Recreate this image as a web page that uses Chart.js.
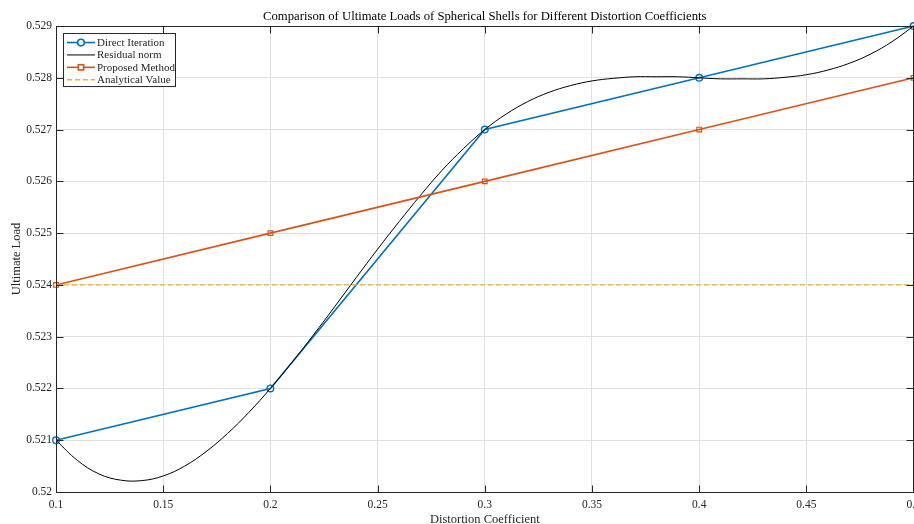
<!DOCTYPE html>
<html>
<head>
    <title>Ultimate Loads of Spherical Shells</title>
    <script src="https://cdn.jsdelivr.net/npm/chart.js"></script>
    <style>
body{
    margin: 0;
    background-color: #ffffff;
    overflow: hidden;
}
    </style>
</head>
<body>
    <!-- a little wider than the window so the last x label is cut at the edge, as in the figure -->
    <canvas id="loadChart" width="919" height="524"></canvas>

    <script>
        // Data
        const distortion = [0.1, 0.2, 0.3, 0.4, 0.5];
        const directIteration = [0.521, 0.522, 0.527, 0.528, 0.529];
        const proposedMethod = [0.524, 0.525, 0.526, 0.527, 0.528];
        const analyticalValue = 0.524;

        // smooth black curve, sampled every 0.01
        const residualX = [0.10, 0.11, 0.12, 0.13, 0.14, 0.15, 0.16, 0.17, 0.18, 0.19,
                           0.20, 0.21, 0.22, 0.23, 0.24, 0.25, 0.26, 0.27, 0.28, 0.29,
                           0.30, 0.31, 0.32, 0.33, 0.34, 0.35, 0.36, 0.37, 0.38, 0.39,
                           0.40, 0.41, 0.42, 0.43, 0.44, 0.45, 0.46, 0.47, 0.48, 0.49, 0.50];
        const residualNorm = [0.52100, 0.52061, 0.52035, 0.52023, 0.52022, 0.52031, 0.52050, 0.52078, 0.52113, 0.52154,
                              0.52200, 0.52250, 0.52303, 0.52358, 0.52414, 0.52469, 0.52522, 0.52573, 0.52621, 0.52663,
                              0.52700, 0.52730, 0.52754, 0.52772, 0.52785, 0.52794, 0.52799, 0.52802, 0.52802, 0.52802,
                              0.52800, 0.52798, 0.52798, 0.52798, 0.52801, 0.52806, 0.52815, 0.52828, 0.52846, 0.52870, 0.52900];

        const xTicks = { min: 0.1, max: 0.5, step: 0.05 };
        const yTicks = { min: 0.52, max: 0.529, step: 0.001 };

        const serif = '"Liberation Serif", "Times New Roman", serif';
        const axisColor = '#262626';

        function toXY(xs, ys) {
            return xs.map((x, i) => ({ x: x, y: ys[i] }));
        }

        // inward tick marks, box on top/right, MATLAB-like legend
        const matlabAxes = {
            id: 'matlabAxes',
            afterDatasetsDraw(chart) {
                const ctx = chart.ctx;
                const a = chart.chartArea;
                const xs = chart.scales.x, ys = chart.scales.y;
                const len = 7;
                const l = Math.round(a.left) + 0.5, r = Math.round(a.right) - 0.5;
                const t = Math.round(a.top) + 0.5, b = Math.round(a.bottom) + 0.5;
                ctx.save();
                ctx.strokeStyle = axisColor;
                ctx.lineWidth = 1;
                ctx.beginPath();
                xs.ticks.forEach(tk => {
                    const px = Math.round(xs.getPixelForValue(tk.value)) + 0.5;
                    ctx.moveTo(px, b); ctx.lineTo(px, b - len);
                    ctx.moveTo(px, t); ctx.lineTo(px, t + len);
                });
                ys.ticks.forEach(tk => {
                    const py = Math.round(ys.getPixelForValue(tk.value)) + 0.5;
                    ctx.moveTo(l, py); ctx.lineTo(l + len, py);
                    ctx.moveTo(r, py); ctx.lineTo(r - len, py);
                });
                ctx.stroke();
                ctx.strokeRect(l, t, r - l, b - t);
                ctx.restore();
            },
            afterDraw(chart) {
                const ctx = chart.ctx;
                const a = chart.chartArea;
                const left = a.left + 7, top = a.top + 7;
                const w = 112, rowH = 12.4, h = 53;
                ctx.save();
                ctx.fillStyle = '#ffffff';
                ctx.fillRect(left + 0.5, top + 0.5, w, h);
                ctx.strokeStyle = axisColor;
                ctx.lineWidth = 1;
                ctx.strokeRect(left + 0.5, top + 0.5, w, h);
                ctx.font = '11px ' + serif;
                ctx.textBaseline = 'middle';
                chart.data.datasets.forEach((ds, i) => {
                    const y = top + 9.5 + i * rowH;
                    const x0 = left + 4, x1 = left + 32;
                    ctx.strokeStyle = ds.borderColor;
                    ctx.lineWidth = ds.borderWidth;
                    ctx.setLineDash(ds.borderDash || []);
                    ctx.beginPath();
                    ctx.moveTo(x0, y); ctx.lineTo(x1, y);
                    ctx.stroke();
                    ctx.setLineDash([]);
                    const cx = (x0 + x1) / 2;
                    if (ds.pointStyle === 'circle' && ds.pointRadius > 0) {
                        ctx.fillStyle = '#ffffff';
                        ctx.beginPath();
                        ctx.arc(cx, y, ds.pointRadius, 0, Math.PI * 2);
                        ctx.fill(); ctx.stroke();
                    } else if (ds.pointStyle === 'rect' && ds.pointRadius > 0) {
                        const r = ds.pointRadius * 0.8;
                        ctx.fillStyle = '#ffffff';
                        ctx.fillRect(cx - r, y - r, 2 * r, 2 * r);
                        ctx.strokeRect(cx - r, y - r, 2 * r, 2 * r);
                    }
                    ctx.fillStyle = '#262626';
                    ctx.fillText(ds.label, x1 + 2, y + 0.5);
                });
                ctx.restore();
            }
        };

        new Chart(document.getElementById('loadChart'), {
            type: 'line',
            data: {
                datasets: [{
                    label: 'Direct Iteration',
                    data: toXY(distortion, directIteration),
                    borderColor: '#0072BD',
                    backgroundColor: 'rgba(0,0,0,0)',
                    borderWidth: 1.6,
                    pointStyle: 'circle',
                    pointRadius: 3.3,
                    pointBorderWidth: 1.4,
                    order: 4,
                    clip: false
                }, {
                    label: 'Residual norm',
                    data: toXY(residualX, residualNorm),
                    borderColor: '#000000',
                    borderWidth: 1,
                    pointRadius: 0,
                    tension: 0.4,
                    order: 3,
                    clip: false
                }, {
                    label: 'Proposed Method',
                    data: toXY(distortion, proposedMethod),
                    borderColor: '#D95319',
                    backgroundColor: 'rgba(0,0,0,0)',
                    borderWidth: 1.6,
                    pointStyle: 'rect',
                    pointRadius: 3.3,
                    pointBorderWidth: 1.2,
                    order: 2,
                    clip: false
                }, {
                    label: 'Analytical Value',
                    data: toXY([xTicks.min, xTicks.max], [analyticalValue, analyticalValue]),
                    borderColor: '#EDB120',
                    borderWidth: 1.3,
                    borderDash: [5, 3],
                    pointRadius: 0,
                    order: 1,
                    clip: false
                }]
            },
            options: {
                responsive: false,
                devicePixelRatio: 1,
                animation: false,
                layout: { padding: { left: 0, right: 1, top: 0, bottom: 0 } },
                plugins: {
                    legend: { display: false },
                    tooltip: { enabled: false },
                    title: {
                        display: true,
                        fullSize: false,
                        text: 'Comparison of Ultimate Loads of Spherical Shells for Different Distortion Coefficients',
                        color: '#000000',
                        font: { family: serif, size: 12.7, weight: 'normal', lineHeight: 1.2 },
                        padding: { top: 9.4, bottom: 1.4 }
                    }
                },
                scales: {
                    x: {
                        type: 'linear',
                        min: xTicks.min,
                        max: xTicks.max,
                        afterFit(scale) {
                            scale.height = 32;
                            scale.paddingLeft = 0;
                            scale.paddingRight = 0;
                        },
                        ticks: {
                            stepSize: xTicks.step,
                            padding: 6.5,
                            color: '#262626',
                            maxRotation: 0,
                            font: { family: serif, size: 11.5 },
                            callback: v => String(+v.toFixed(4))
                        },
                        grid: { color: '#e1e1e1', drawTicks: false },
                        border: { display: false },
                        title: {
                            display: true,
                            text: 'Distortion Coefficient',
                            color: '#262626',
                            font: { family: serif, size: 12.5, lineHeight: 1 },
                            padding: { top: 0, bottom: -2 }
                        }
                    },
                    y: {
                        min: yTicks.min,
                        max: yTicks.max,
                        afterFit(scale) {
                            scale.width = 56;
                            scale.paddingTop = 0;
                            scale.paddingBottom = 0;
                        },
                        ticks: {
                            stepSize: yTicks.step,
                            padding: 4,
                            color: '#262626',
                            font: { family: serif, size: 11.5 },
                            callback: v => String(+v.toFixed(4))
                        },
                        grid: { color: '#e1e1e1', drawTicks: false },
                        border: { display: false },
                        title: {
                            display: true,
                            text: 'Ultimate Load',
                            color: '#262626',
                            font: { family: serif, size: 12.5, lineHeight: 1.2 },
                            padding: { top: 9.5, bottom: 0 }
                        }
                    }
                }
            },
            plugins: [matlabAxes]
        });
    </script>
</body>
</html>
